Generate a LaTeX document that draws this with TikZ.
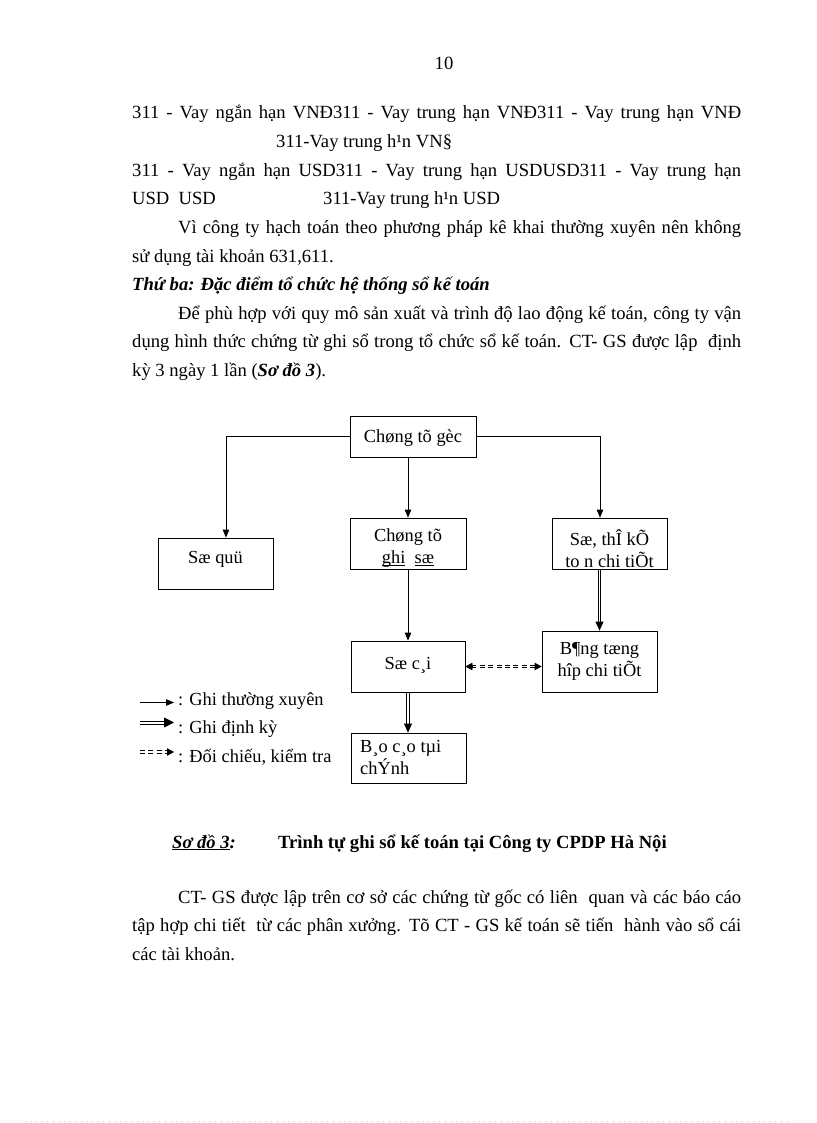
\documentclass[tikz,border=0pt]{standalone}
\usepackage{fontspec}
\setmainfont{Liberation Serif}
\usetikzlibrary{arrows.meta,calc}
\newcommand\myul[1]{\leavevmode\setbox0=\hbox{#1}\rlap{\rule[-2pt]{\wd0}{0.8pt}}\box0}
\newcommand\jline[2]{\makebox[#1][s]{#2}}
\begin{document}
\begin{tikzpicture}[x=1pt,y=-1pt,
  txt/.style={anchor=base west,inner sep=0pt,font=\fontsize{18.6}{22}\selectfont},
  box/.style={draw,line width=0.8pt,inner sep=0pt},
  btxt/.style={inner sep=0pt,align=center,font=\fontsize{18.4}{22}\selectfont},
  stxt/.style={inner sep=0pt,anchor=base,font=\fontsize{18.4}{22}\selectfont},
  ltxt/.style={anchor=base west,inner sep=0pt,font=\fontsize{18.4}{22}\selectfont},
  conn/.style={line width=0.8pt,-{Triangle[length=8pt,width=6.5pt]}},
  rail/.style={line width=0.8pt},
  drail/.style={line width=0.9pt,dash pattern=on 5pt off 3.4pt},
  tipD/.style={line width=0.8pt,-{Triangle[length=9pt,width=8pt]}},
  tipL/.style={line width=0.8pt,-{Triangle[length=10pt,width=10pt]}},
  tipC/.style={line width=0.8pt,-{Triangle[length=7pt,width=7.5pt]}}
]
\useasboundingbox (0,0) rectangle (816,1123);
\fill[white] (0,0) rectangle (816,1123);

% page number
\node[txt,anchor=base] (pnum) at (444,70) {10};

% text above the diagram
\node[txt] (l1) at (132,119) {\jline{609pt}{311 - Vay ngắn hạn VNĐ311 - Vay trung hạn VNĐ311 - Vay trung hạn VNĐ}};
\node[txt] (l2) at (276,147.6) {311-Vay trung h¹n VN§};
\node[txt] (l3) at (132,176.2) {\jline{609pt}{311 - Vay ngắn hạn USD311 - Vay trung hạn USDUSD311 - Vay trung hạn}};
\node[txt] (l4a) at (132,204.8) {USD\ \ USD};
\node[txt] (l4b) at (323,204.8) {311-Vay trung h¹n USD};
\node[txt] (l5) at (178,233.4) {\jline{563pt}{Vì công ty hạch toán theo phương pháp kê khai thường xuyên nên không}};
\node[txt] (l6) at (132,262) {sử dụng tài khoản 631,611.};
\node[txt,font=\fontsize{18.6}{22}\selectfont\bfseries\itshape] (l7) at (132,290.6) {Thứ ba: Đặc điểm tổ chức hệ thống sổ kế toán};
\node[txt] (l8) at (178,319.2) {\jline{563pt}{Để phù hợp với quy mô sản xuất và trình độ lao động kế toán, công ty vận}};
\node[txt] (l9) at (132,347.8) {\jline{609pt}{dụng hình thức chứng từ ghi sổ trong tổ chức sổ kế toán. CT- GS được lập\ \ định}};
\node[txt] (l10) at (132,376.4) {kỳ 3 ngày 1 lần (\textbf{\textit{Sơ đồ 3}}).};

% boxes
\node[box,minimum width=126,minimum height=41] (goc) at (413,436.5) {};
\node[stxt] (goct) at (413,442) {Chøng tõ gèc};
\node[box,minimum width=115,minimum height=51] (quy) at (215.5,563.5) {};
\node[stxt] (quyt) at (215.5,563) {Sæ quü};
\node[box,minimum width=116,minimum height=51] (ghiso) at (408,543.5) {};
\node[btxt] (ghisot) at (408,548) {Chøng tõ\\\myul{ghi}\ \ \myul{sæ}};
\node[box,minimum width=115,minimum height=51] (sothe) at (609.5,543.5) {};
\node[btxt] (sothet) at (609.5,548.5) {Sæ, thÎ kÕ\\to n chi tiÕt};
\node[box,minimum width=114,minimum height=51] (socai) at (408,666.5) {};
\node[stxt] (socait) at (408,669) {Sæ c¸i};
\node[box,minimum width=115,minimum height=61] (bang) at (599.5,661.5) {};
\node[btxt] (bangt) at (599.5,661) {B¶ng tæng\\hîp chi tiÕt};
\node[box,minimum width=115,minimum height=50] (baocao) at (408.5,758) {};
\node[btxt,anchor=west,align=left] (baocaot) at (360,757.5) {B¸o c¸o tµi\\chÝnh};

% single-line connectors
\coordinate (jl) at (226,436);
\coordinate (jr) at (600,436);
\draw[conn] (goc.west |- jl) -- (jl) -- (jl |- quy.north);
\draw[conn] (goc.east |- jr) -- (jr) -- (jr |- sothe.north);
\draw[conn] (ghiso.north |- goc.south) -- (ghiso.north);
\draw[conn] (ghiso.south) -- (socai.north);

% double connectors (periodic entries)
\coordinate (bcTop) at (socai.south |- baocao.north);
\draw[rail] ([xshift=-1.3pt]socai.south) -- ([xshift=-1.3pt,yshift=8pt]bcTop);
\draw[rail] ([xshift=1.3pt]socai.south) -- ([xshift=1.3pt,yshift=8pt]bcTop);
\draw[tipD] ([yshift=9pt]bcTop) -- (bcTop);
\coordinate (stBot) at (bang.north |- sothe.south);
\draw[rail] ([xshift=-1.3pt]stBot) -- ([xshift=-1.3pt,yshift=8pt]bang.north);
\draw[rail] ([xshift=1.3pt]stBot) -- ([xshift=1.3pt,yshift=8pt]bang.north);
\draw[tipD] ([yshift=9pt]bang.north) -- (bang.north);

% dashed double connector (cross-check)
\coordinate (chkR) at (socai.east -| bang.west);
\draw[drail] ([xshift=6pt,yshift=1.4pt]socai.east) -- ([xshift=-6pt,yshift=1.4pt]chkR);
\draw[drail] ([xshift=6pt,yshift=-1.4pt]socai.east) -- ([xshift=-6pt,yshift=-1.4pt]chkR);
\draw[tipC] ([xshift=7pt]socai.east) -- (socai.east);
\draw[tipC] ([xshift=-7pt]chkR) -- (chkR);

% legend
\coordinate (g1a) at (140,702.5); \coordinate (g1b) at (174,702.5);
\coordinate (g2a) at (140,722.5); \coordinate (g2b) at (174,722.5);
\coordinate (g3a) at (140,752); \coordinate (g3b) at (174,752);
\draw[conn] (g1a) -- (g1b);
\draw[rail] ([yshift=1.4pt]g2a) -- ([yshift=1.4pt,xshift=-8pt]g2b);
\draw[rail] ([yshift=-1.4pt]g2a) -- ([yshift=-1.4pt,xshift=-8pt]g2b);
\draw[tipL] ([xshift=-10pt]g2b) -- (g2b);
\draw[drail] ([yshift=1.4pt]g3a) -- ([yshift=1.4pt,xshift=-6pt]g3b);
\draw[drail] ([yshift=-1.4pt]g3a) -- ([yshift=-1.4pt,xshift=-6pt]g3b);
\draw[tipC] ([xshift=-7pt]g3b) -- (g3b);
\node[ltxt] (g1t) at (178,705.5) {: Ghi thường xuyên};
\node[ltxt] (g2t) at (178,733.5) {: Ghi định kỳ};
\node[ltxt] (g3t) at (178,762) {: Đối chiếu, kiểm tra};

% caption
\node[txt,font=\fontsize{18.6}{22}\selectfont\bfseries\itshape] (cap1) at (172,848) {\underline{Sơ đồ 3}:};
\node[txt,font=\fontsize{18.6}{22}\selectfont\bfseries] (cap2) at (278,848) {Trình tự ghi sổ kế toán tại Công ty CPDP Hà Nội};

% paragraph below
\node[txt] (p1) at (178,903) {\jline{563pt}{CT- GS được lập trên cơ sở các chứng từ gốc có liên\ \ quan và các báo cáo}};
\node[txt] (p2) at (132,931.5) {\jline{609pt}{tập hợp chi tiết\ \ từ các phân xưởng. Tõ CT - GS kế toán sẽ tiến\ \ hành vào sổ cái}};
\node[txt] (p3) at (132,960) {các tài khoản.};

% faint page edge
\draw[gray!45,line width=0.5pt,dash pattern=on 0.6pt off 5pt] (25,1121) -- (792,1121);
\end{tikzpicture}
\end{document}
